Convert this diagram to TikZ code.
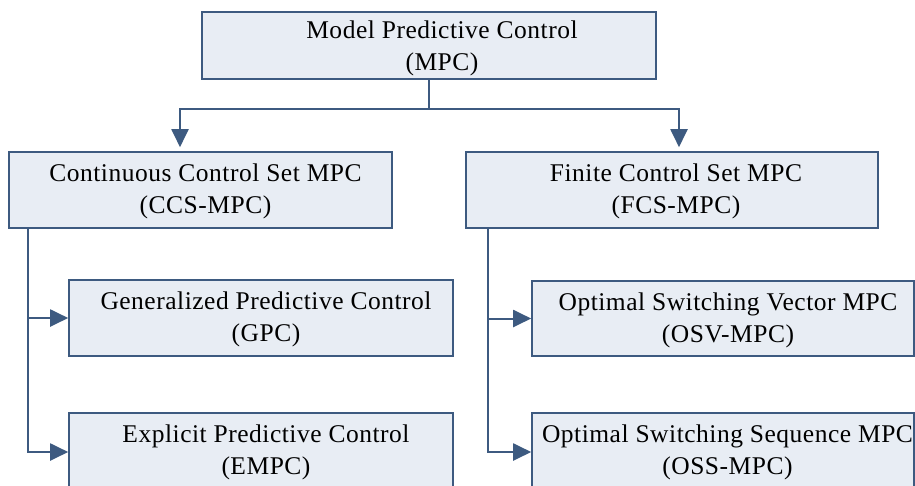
\documentclass[tikz,border=0pt]{standalone}
\usepackage{fontspec}
\setmainfont{Liberation Serif}[LetterSpace=2]
\usetikzlibrary{arrows.meta}
\definecolor{edge}{HTML}{3D5A80}
\definecolor{boxfill}{HTML}{E8EDF4}
\tikzset{
  x=1pt, y=-1pt,
  box/.style={draw=edge, line width=1.6pt, fill=boxfill, inner sep=0pt},
  txt/.style={align=center, font=\fontsize{25.5}{32}\selectfont, inner sep=0pt},
  conn/.style={draw=edge, line width=2pt},
  arr/.style={conn, -{Triangle[width=17pt,length=18pt]}},
}
\begin{document}
\begin{tikzpicture}
\useasboundingbox (0,0) rectangle (915,485);
% boxes
\node[box, minimum width=454pt, minimum height=67pt] (top) at (429,45.5) {};
\node[box, minimum width=383pt, minimum height=76pt] (ccs) at (200.5,190) {};
\node[box, minimum width=412pt, minimum height=76pt] (fcs) at (672,190) {};
\node[box, minimum width=384pt, minimum height=76pt] (gpc) at (261,318) {};
\node[box, minimum width=384pt, minimum height=76pt] (empc) at (261,451) {};
\node[box, minimum width=382pt, minimum height=75pt] (osv) at (723,318.5) {};
\node[box, minimum width=382pt, minimum height=76pt] (oss) at (723,451) {};
% texts
\node[txt] (toptxt) at ([xshift=13pt,yshift=-3pt]top.center) {Model Predictive Control\\(MPC)};
\node[txt] (ccstxt) at ([xshift=5pt,yshift=-1.5pt]ccs.center) {Continuous Control Set MPC\\(CCS-MPC)};
\node[txt] (fcstxt) at ([xshift=4pt,yshift=-1.5pt]fcs.center) {Finite Control Set MPC\\(FCS-MPC)};
\node[txt] (gpctxt) at ([xshift=5pt,yshift=-1.5pt]gpc.center) {Generalized Predictive Control\\(GPC)};
\node[txt] (empctxt) at ([xshift=5pt,yshift=-1.5pt]empc.center) {Explicit Predictive Control\\(EMPC)};
\node[txt] (osvtxt) at ([xshift=5pt,yshift=-1.5pt]osv.center) {Optimal Switching Vector MPC\\(OSV-MPC)};
\node[txt] (osstxt) at ([xshift=4.5pt,yshift=-1.5pt]oss.center) {Optimal Switching Sequence MPC\\(OSS-MPC)};
% connectors
\coordinate (j) at (429,109);
\draw[conn] (top.south) -- (j);
\draw[arr, shorten >=4pt] (j) -| ([xshift=-20.5pt]ccs.north);
\draw[arr, shorten >=4pt] (j) -| ([xshift=7pt]fcs.north);
\draw[arr] ([xshift=20pt]ccs.south west) |- (gpc.west);
\draw[arr] ([xshift=20pt]ccs.south west) |- ([yshift=-1pt]empc.west);
\draw[arr] ([xshift=23pt]fcs.south west) |- (osv.west);
\draw[arr] ([xshift=23pt]fcs.south west) |- ([yshift=-1pt]oss.west);
\end{tikzpicture}
\end{document}
